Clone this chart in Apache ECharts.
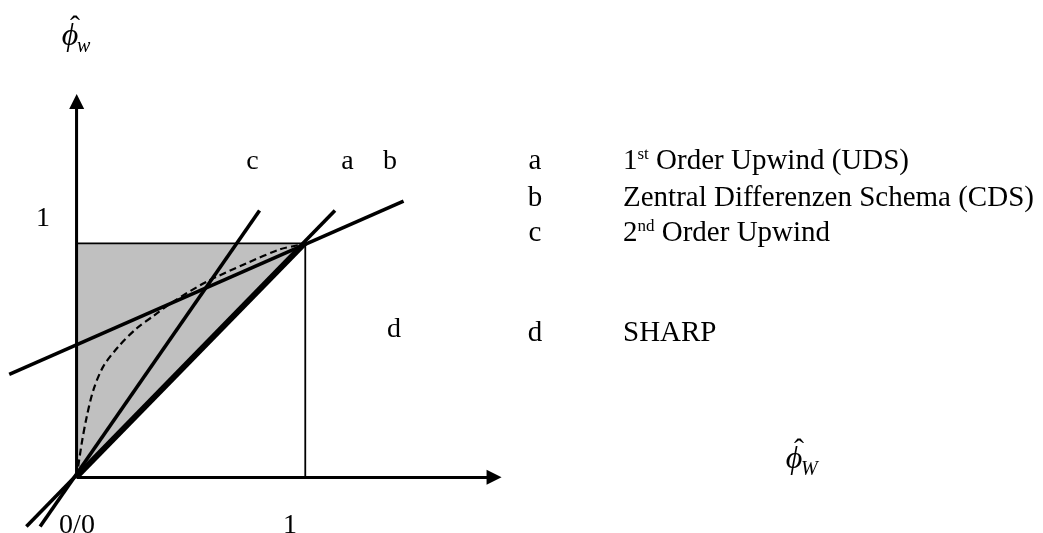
<!DOCTYPE html>
<html>
<head>
<meta charset="utf-8">
<script src="https://cdn.jsdelivr.net/npm/echarts@6/dist/echarts.min.js"></script>
<style>
  html, body { margin: 0; padding: 0; background: #fff; }
  #chart { width: 1043px; height: 533px; }
</style>
</head>
<body>
<div id="chart"></div>
<script>
// Normalized variable diagram: normalized face value over normalized upstream value
const schemeKeys = ['a', 'b', 'c', 'd'];
const schemeNames = ['1st Order Upwind (UDS)', 'Zentral Differenzen Schema (CDS)', '2nd Order Upwind', 'SHARP'];

// straight scheme characteristics, end points [x, y]
const udsLine = [[-0.22, -0.21], [1.13, 1.14]];
const cdsLine = [[-0.295, 0.44], [1.43, 1.18]];
const ludsLine = [[-0.16, -0.21], [0.80, 1.14]];

// SHARP characteristic
const sharpCurve = [
  [0, 0], [0.022, 0.145], [0.044, 0.259], [0.073, 0.373], [0.116, 0.473],
  [0.182, 0.558], [0.263, 0.637], [0.335, 0.689], [0.423, 0.751],
  [0.569, 0.836], [0.744, 0.915], [0.889, 0.974], [0.969, 0.992], [1, 1]
];

// shaded bounded region and unit box
const boundedRegion = [[0, 0], [0, 1], [1, 1]];
const unitBox = [[0, 1], [1, 1], [1, 0]];

// coordinate axes (start, end)
const xAxisLine = [[0, 0], [1.826, 0]];
const yAxisLine = [[0, 0], [0, 1.606]];

const SERIF = '"Liberation Serif", "Times New Roman", serif';
const INK = '#000';

function plainLine(data, width, extra) {
  return Object.assign({
    type: 'line', data: data, symbol: 'none', showSymbol: false, clip: false,
    silent: true, z: 3,
    lineStyle: { color: INK, width: width }
  }, extra || {});
}

function axisArrow(data) {
  return plainLine(data, 2.8, {
    z: 4,
    markLine: {
      silent: true, symbol: ['none', 'triangle'], symbolSize: [15, 15],
      label: { show: false },
      lineStyle: { color: INK, width: 2.8, type: 'solid' },
      emphasis: { disabled: true },
      data: [[{ coord: data[0] }, { coord: data[1] }]]
    }
  });
}

// "1st" -> rich text with raised ordinal suffix
function richName(name) {
  const m = name.match(/^(\d)(st|nd|rd|th)(.*)$/);
  if (!m) return '{n|' + name + '}';
  return '{n|' + m[1] + '}{sup|' + m[2] + '}{n|' + m[3] + '}';
}

const labelFont = '28px ' + SERIF;
const keyFont = '29px ' + SERIF;
const graphics = [];
function addText(text, x, y, align, font) {
  graphics.push({
    type: 'text', x: x, y: y, silent: true, z: 10,
    style: { text: text, font: font || labelFont, fill: INK, textAlign: align || 'center', textVerticalAlign: 'middle' }
  });
}

// axis symbols (phi with hat and index)
function addPhiHat(x, y, sub) {
  addText('\u03D5', x, y, 'center', 'italic 32px ' + SERIF);
  addText('\u02C6', x + 5, y - 9, 'center', '30px ' + SERIF);
  addText(sub, x + 7, y + 10, 'left', 'italic 20px ' + SERIF);
}
addPhiHat(70, 37, 'w');
addPhiHat(794, 460, 'W');

// tick labels
addText('1', 43, 219);
addText('0/0', 77, 526);
addText('1', 290, 526);

// curve labels in the plot
addText('c', 252.5, 162);
addText('a', 347.5, 162);
addText('b', 390, 162);
addText('d', 394, 330);

// key on the right
const keyY = [161, 198, 233, 333];
schemeKeys.forEach(function (k, i) {
  addText(k, 535, keyY[i], 'center', keyFont);
  graphics.push({
    type: 'text', x: 623, y: keyY[i], silent: true, z: 10,
    style: {
      text: richName(schemeNames[i]), fill: INK,
      textAlign: 'left', textVerticalAlign: 'middle',
      rich: {
        n: { font: keyFont, fill: INK },
        sup: { font: '17px ' + SERIF, fill: INK, verticalAlign: 'top' }
      }
    }
  });
});

const chart = echarts.init(document.getElementById('chart'), null, { renderer: 'canvas' });
chart.setOption({
  animation: false,
  backgroundColor: '#fff',
  grid: { left: 8.1, top: 79.5, width: 502.9, height: 449.3, containLabel: false },
  xAxis: { type: 'value', min: -0.3, max: 1.9, show: false },
  yAxis: { type: 'value', min: -0.22, max: 1.7, show: false },
  series: [
    {
      type: 'custom', coordinateSystem: 'cartesian2d', data: boundedRegion, z: 1, silent: true,
      renderItem: function (params, api) {
        if (params.dataIndex !== 0) return null;
        const pts = boundedRegion.map(function (p) { return api.coord(p); });
        return {
          type: 'group',
          children: [
            { type: 'polygon', shape: { points: pts }, style: { fill: '#c0c0c0' } },
            { type: 'line', shape: { x1: pts[0][0], y1: pts[0][1], x2: pts[2][0], y2: pts[2][1] },
              style: { stroke: INK, lineWidth: 5 } }
          ]
        };
      }
    },
    plainLine(unitBox, 1.8, { z: 2 }),
    axisArrow(xAxisLine),
    axisArrow(yAxisLine),
    plainLine(sharpCurve, 2.2, { smooth: 0.3, lineStyle: { color: INK, width: 2.2, type: [7, 4] } }),
    plainLine(udsLine, 3.6),
    plainLine(cdsLine, 3.6),
    plainLine(ludsLine, 3.6)
  ],
  graphic: graphics
});
</script>
</body>
</html>
